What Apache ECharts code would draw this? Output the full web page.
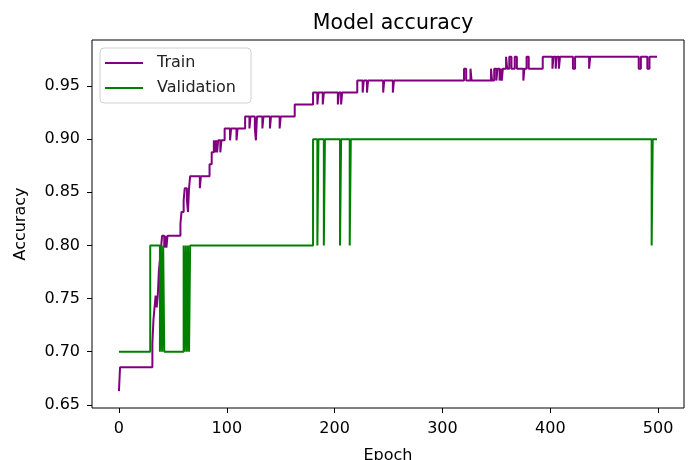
<!DOCTYPE html>
<html>
<head>
<meta charset="utf-8">
<script src="https://cdn.jsdelivr.net/npm/echarts@6/dist/echarts.min.js"></script>
<style>
  html, body { margin: 0; padding: 0; background: #fff; }
  #chart { width: 691px; height: 460px; }
</style>
</head>
<body>
<div id="chart"></div>
<script>
// step points: value holds from this epoch until the next listed epoch
const trainEpochs = [0, 1, 31, 32, 33, 34, 35, 36, 37, 38, 39, 40, 42, 43, 44, 45, 57, 58, 60, 61, 63, 64, 65, 66, 75, 76,
  84, 86, 88, 89, 90, 91, 92, 94, 95, 98, 103, 104, 109, 110, 117, 121, 122, 126, 127, 128, 133, 134, 140, 141, 149, 150,
  163, 180, 184, 185, 189, 190, 203, 204, 206, 207, 221, 226, 227, 230, 231, 245, 246, 254, 255,
  320, 322, 326, 327, 345, 346, 348, 350, 351, 353, 354, 355, 356, 359, 360, 362, 364, 367, 369, 375, 376, 378, 380,
  393, 402, 403, 405, 406, 408, 409, 421, 423, 436, 437, 482, 484, 490, 492, 499]
const trainAcc = [0.6629, 0.6854, 0.7079, 0.7303, 0.7416, 0.7528, 0.7416, 0.7528, 0.7753, 0.7865, 0.7978, 0.8090, 0.7978, 0.8090, 0.7978, 0.8090, 0.8202, 0.8315, 0.8427, 0.8539, 0.8427, 0.8315, 0.8539, 0.8652, 0.8539, 0.8652,
  0.8764, 0.8876, 0.8989, 0.8876, 0.8989, 0.8876, 0.8989, 0.8876, 0.8989, 0.9101, 0.8989, 0.9101, 0.8989, 0.9101, 0.9213, 0.9101, 0.9213, 0.9101, 0.8989, 0.9213, 0.9101, 0.9213, 0.9101, 0.9213, 0.9101, 0.9213,
  0.9326, 0.9438, 0.9326, 0.9438, 0.9326, 0.9438, 0.9326, 0.9438, 0.9326, 0.9438, 0.9551, 0.9438, 0.9551, 0.9438, 0.9551, 0.9438, 0.9551, 0.9438, 0.9551,
  0.9663, 0.9551, 0.9663, 0.9551, 0.9663, 0.9551, 0.9663, 0.9551, 0.9663, 0.9551, 0.9663, 0.9551, 0.9663, 0.9775, 0.9663, 0.9775, 0.9663, 0.9775, 0.9663, 0.9551, 0.9663, 0.9775, 0.9663,
  0.9775, 0.9663, 0.9775, 0.9663, 0.9775, 0.9663, 0.9775, 0.9663, 0.9775, 0.9663, 0.9775, 0.9663, 0.9775, 0.9663, 0.9775, 0.9775]

const valEpochs = [0, 29, 38, 39, 40, 41, 42, 60, 61, 62, 63, 64, 65, 66, 180, 184, 185, 190, 191, 205, 206, 214, 215, 494, 495, 499]
const valAcc = [0.7, 0.8, 0.7, 0.8, 0.7, 0.8, 0.7, 0.8, 0.7, 0.8, 0.7, 0.8, 0.7, 0.8, 0.9, 0.8, 0.9, 0.8, 0.9, 0.8, 0.9, 0.8, 0.9, 0.8, 0.9, 0.9]

const xTicks = [0, 100, 200, 300, 400, 500]
const yTicks = [0.65, 0.70, 0.75, 0.80, 0.85, 0.90, 0.95]

const pairs = (xs, ys) => xs.map((x, i) => [x, ys[i]])

const font = 'DejaVu Sans'
const myChart = echarts.init(document.getElementById('chart'), null, { renderer: 'canvas' })

myChart.setOption({
    animation: false,
    title: {
        text: 'Model accuracy',
        left: 388,
        textAlign: 'center',
        top: 8,
        textStyle: { fontFamily: font, fontSize: 20.5, fontWeight: 'normal', color: '#000' }
    },
    legend: {
        orient: 'vertical',
        left: 100,
        top: 48,
        padding: [6, 15, 6, 5],
        icon: 'rect',
        itemWidth: 38,
        itemHeight: 2,
        itemGap: 7,
        borderColor: '#d0d0d0',
        borderWidth: 1,
        borderRadius: 4,
        backgroundColor: 'rgba(255,255,255,0.8)',
        textStyle: { fontFamily: font, fontSize: 16, color: '#222', lineHeight: 18, padding: [0, 0, 0, 9] },
        data: ['Train', 'Validation']
    },
    grid: {
        left: 92, right: 7, top: 40, bottom: 52,
        outerBoundsMode: 'none',
        show: true, borderColor: '#000', borderWidth: 1, backgroundColor: 'transparent'
    },
    xAxis: {
        type: 'value',
        min: -25, max: 524,
        name: 'Epoch',
        nameLocation: 'middle',
        nameGap: 40,
        nameTextStyle: { fontFamily: font, fontSize: 16, color: '#000' },
        axisLine: { show: false, onZero: false },
        splitLine: { show: false },
        axisTick: { show: true, length: 5, lineStyle: { color: '#000' }, customValues: xTicks },
        axisLabel: { fontFamily: font, fontSize: 16, color: '#000', margin: 13, customValues: xTicks }
    },
    yAxis: {
        type: 'value',
        min: 0.647, max: 0.9933,
        name: 'Accuracy',
        nameLocation: 'middle',
        nameGap: 63,
        nameTextStyle: { fontFamily: font, fontSize: 16, color: '#000' },
        axisLine: { show: false, onZero: false },
        splitLine: { show: false },
        axisTick: { show: true, length: 5, lineStyle: { color: '#000' }, customValues: yTicks },
        axisLabel: {
            fontFamily: font, fontSize: 16, color: '#000', margin: 12, customValues: yTicks,
            formatter: v => v.toFixed(2)
        }
    },
    series: [
        {
            name: 'Train',
            type: 'line',
            step: 'end',
            symbol: 'none',
            data: pairs(trainEpochs, trainAcc),
            itemStyle: { color: '#800080' },
            lineStyle: { color: '#800080', width: 2 }
        },
        {
            name: 'Validation',
            type: 'line',
            step: 'end',
            symbol: 'none',
            data: pairs(valEpochs, valAcc),
            itemStyle: { color: '#008000' },
            lineStyle: { color: '#008000', width: 2 }
        }
    ]
})
</script>
</body>
</html>
